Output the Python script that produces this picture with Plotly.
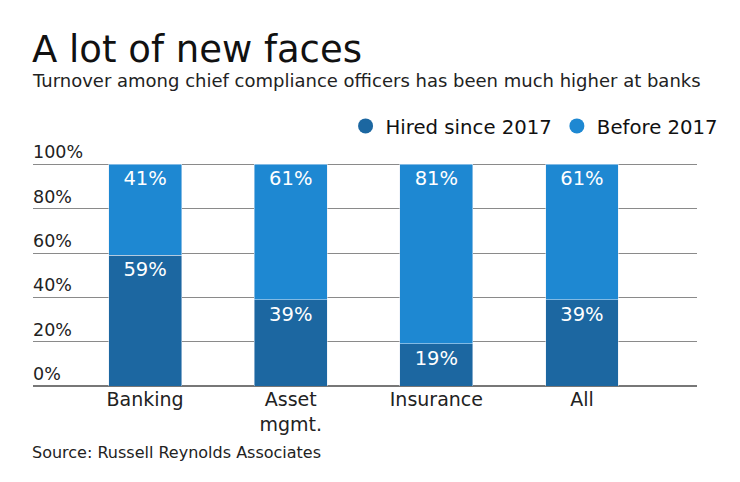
import plotly.graph_objects as go

categories = ["Banking", "Asset<br>mgmt.", "Insurance", "All"]
hired_since_2017 = [59, 39, 19, 39]
before_2017 = [41, 61, 81, 61]
y_ticks = [0, 20, 40, 60, 80, 100]

DARK = "#1c67a1"
LIGHT = "#1e88d2"
FONT = "DejaVu Sans"

fig = go.Figure()
fig.add_trace(go.Bar(
    x=categories, y=hired_since_2017, marker_color=DARK, width=0.5,
    text=[f"{v}%" for v in hired_since_2017], textposition="inside",
    insidetextanchor="end", textfont=dict(color="white", size=19.5, family=FONT),
    showlegend=False, hoverinfo="skip"))
fig.add_trace(go.Bar(
    x=categories, y=before_2017, marker_color=LIGHT, width=0.5,
    text=[f"{v}%" for v in before_2017], textposition="inside",
    insidetextanchor="end", textfont=dict(color="white", size=19.5, family=FONT),
    showlegend=False, hoverinfo="skip"))
# legend entries with circular markers
fig.add_trace(go.Scatter(x=[None], y=[None], mode="markers", name="Hired since 2017",
                         marker=dict(color=DARK, size=15, symbol="circle")))
fig.add_trace(go.Scatter(x=[None], y=[None], mode="markers", name="Before 2017",
                         marker=dict(color=LIGHT, size=15, symbol="circle")))

annotations = []
for t in y_ticks:
    annotations.append(dict(x=0, xref="paper", y=t, yref="y", text=f"{t}%",
                            showarrow=False, xanchor="left", yanchor="bottom",
                            yshift=0, xshift=-2, font=dict(size=17.5, color="#222", family=FONT)))
annotations.append(dict(x=0, xref="paper", y=1.489, yref="paper", text="A lot of new faces",
                        showarrow=False, xanchor="left", yanchor="middle", xshift=-3,
                        font=dict(size=37, color="#111", family=FONT)))
annotations.append(dict(x=0, xref="paper", y=1.352, yref="paper",
                        text="Turnover among chief compliance officers has been much higher at banks",
                        showarrow=False, xanchor="left", yanchor="middle", xshift=-3,
                        font=dict(size=18, color="#222", family=FONT)))
annotations.append(dict(x=0, xref="paper", y=-0.296, yref="paper",
                        text="Source: Russell Reynolds Associates",
                        showarrow=False, xanchor="left", yanchor="middle", xshift=-3,
                        font=dict(size=16, color="#222", family=FONT)))

fig.update_layout(
    width=740, height=482, barmode="stack", bargap=0.5,
    margin=dict(l=25, r=51, t=152, b=104),
    paper_bgcolor="white", plot_bgcolor="white",
    font=dict(family=FONT, color="#222"),
    annotations=annotations,
    legend=dict(orientation="h", x=1.04, xanchor="right", y=1.150, yanchor="middle",
                traceorder="normal",
                font=dict(size=19.7, color="#111", family=FONT), itemwidth=30,
                bgcolor="rgba(0,0,0,0)"),
    xaxis=dict(range=[-0.77, 3.79], showgrid=False, showline=False, zeroline=False,
               ticks="", tickfont=dict(size=19, color="#222", family=FONT)),
    yaxis=dict(range=[0, 102], tickvals=y_ticks, showticklabels=False,
               showgrid=True, gridcolor="#8a8a8a", gridwidth=1,
               zeroline=True, zerolinecolor="#777", zerolinewidth=1.5, ticks=""),
)

fig.write_html("out.html")
